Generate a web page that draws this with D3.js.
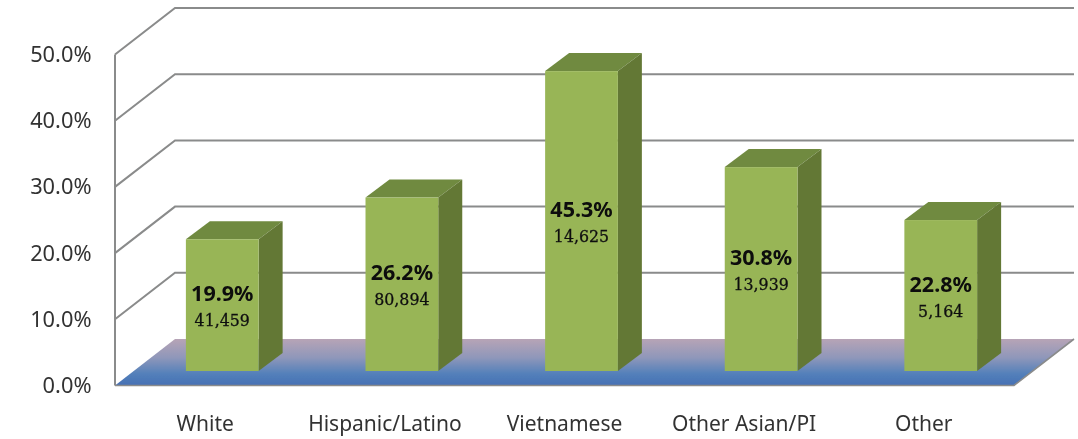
<!DOCTYPE html>
<html><head><meta charset="utf-8">
<script src="https://cdn.jsdelivr.net/npm/d3@7"></script>
<style>html,body{margin:0;background:#fff}svg{display:block}</style></head>
<body><svg id="c" width="1078" height="439"></svg>
<script>
const categories = ["White","Hispanic/Latino","Vietnamese","Other Asian/PI","Other"];
const percents = [19.9,26.2,45.3,30.8,22.8];
const counts = ["41,459","80,894","14,625","13,939","5,164"];
const yTicks = [0,10,20,30,40,50];

const svg = d3.select("#c");
const plot = {left:115, right:1014, base:385.5, top:54.5, wallDx:60, wallDy:46.5, barDx:24, barDy:18, barInset:17};
const y = d3.scaleLinear().domain([0,50]).range([plot.base, plot.top]);
const x = d3.scaleBand().domain(categories).range([plot.left, plot.right]).paddingInner(0.595).paddingOuter(0.3);
const h = v => y(0) - y(v);

const defs = svg.append("defs");
const g = defs.append("linearGradient").attr("id","floor").attr("x1",0).attr("x2",0).attr("y1",0).attr("y2",1);
g.append("stop").attr("offset","0").attr("stop-color","#b7a4b6");
g.append("stop").attr("offset","0.4").attr("stop-color","#8f97ba");
g.append("stop").attr("offset","0.75").attr("stop-color","#5380ba");
g.append("stop").attr("offset","1").attr("stop-color","#4770b4");
defs.append("filter").attr("id","soft").append("feGaussianBlur").attr("stdDeviation",0.45);

const soft = svg.append("g").attr("filter","url(#soft)");

// floor
const f = [[plot.left,plot.base],[plot.right,plot.base],[plot.right+plot.wallDx,plot.base-plot.wallDy],[plot.left+plot.wallDx,plot.base-plot.wallDy]];
soft.append("polygon").attr("points",f.join(" ")).attr("fill","url(#floor)");

// gridlines
const gridColor = "#8a8b8b";
soft.selectAll("path.grid").data(yTicks.slice(1)).join("path").attr("class","grid")
  .attr("fill","none").attr("stroke",gridColor).attr("stroke-width",2)
  .attr("d", d => d3.line()([[plot.left,y(d)],[plot.left+plot.wallDx,y(d)-plot.wallDy],[plot.right+plot.wallDx,y(d)-plot.wallDy]]));
soft.append("line").attr("x1",plot.left).attr("x2",plot.left).attr("y1",y(50)).attr("y2",y(0)).attr("stroke",gridColor).attr("stroke-width",2);
soft.append("path").attr("fill","none").attr("stroke",gridColor).attr("stroke-width",1.6)
  .attr("d",d3.line()([[plot.left,plot.base],[plot.right,plot.base],[plot.right+plot.wallDx,plot.base-plot.wallDy]]));

// bars
const barBase = plot.base - 14.5;
const bx = c => x(c) + plot.barInset;
const bw = x.bandwidth();
const bars = soft.selectAll("g.bar").data(categories).join("g").attr("class","bar");
bars.append("polygon").attr("fill","#6f8a3f").attr("points",(c,i)=>{
  const t=barBase-h(percents[i]),l=bx(c),r=l+bw;
  return [[l,t],[r,t],[r+plot.barDx,t-plot.barDy],[l+plot.barDx,t-plot.barDy]].join(" ");});
bars.append("polygon").attr("fill","#637836").attr("points",(c,i)=>{
  const t=barBase-h(percents[i]),r=bx(c)+bw;
  return [[r,t],[r+plot.barDx,t-plot.barDy],[r+plot.barDx,barBase-plot.barDy],[r,barBase]].join(" ");});
bars.append("rect").attr("fill","#98b557").attr("x",c=>bx(c)).attr("width",bw)
  .attr("y",(c,i)=>barBase-h(percents[i])).attr("height",(c,i)=>h(percents[i]));

// bar labels
bars.append("text").attr("x",c=>bx(c)+bw/2).attr("y",(c,i)=>barBase-h(percents[i])/2-4)
  .attr("text-anchor","middle").attr("font-family","'Noto Sans'").attr("font-weight",700).attr("font-size",21.5).attr("fill","#0c0c0c")
  .text((c,i)=>percents[i].toFixed(1)+"%");
bars.append("text").attr("x",c=>bx(c)+bw/2).attr("y",(c,i)=>barBase-h(percents[i])/2+21)
  .attr("text-anchor","middle").attr("font-family","'DejaVu Serif'").attr("font-size",15.8).attr("fill","#111")
  .attr("stroke","#111").attr("stroke-width",0.3)
  .text((c,i)=>counts[i]);

// y labels
soft.selectAll("text.yl").data(yTicks).join("text").attr("class","yl")
  .attr("x",91.5).attr("y",d=>y(d)+7.5).attr("text-anchor","end")
  .attr("font-family","'Noto Sans'").attr("font-size",21.8).attr("fill","#333")
  .text(d=>d.toFixed(1)+"%");

// x labels
soft.selectAll("text.xl").data(categories).join("text").attr("class","xl")
  .attr("x",c=>x(c)+x.bandwidth()/2).attr("y",431).attr("text-anchor","middle")
  .attr("font-family","'Noto Sans'").attr("font-size",21).attr("fill","#333").text(c=>c);
</script></body></html>
